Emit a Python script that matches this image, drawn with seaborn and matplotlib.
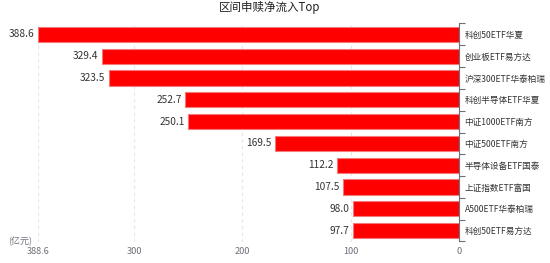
import matplotlib
matplotlib.use("Agg")
import matplotlib.pyplot as plt
import seaborn as sns
import pandas as pd
import numpy as np

categories = ["科创50ETF华夏", "创业板ETF易方达", "沪深300ETF华泰柏瑞", "科创半导体ETF华夏",
              "中证1000ETF南方", "中证500ETF南方", "半导体设备ETF国泰", "上证指数ETF富国",
              "A500ETF华泰柏瑞", "科创50ETF易方达"]
values = [388.6, 329.4, 323.5, 252.7, 250.1, 169.5, 112.2, 107.5, 98.0, 97.7]
xticks = [388.6, 300, 200, 100, 0]
xtick_labels = ["388.6", "300", "200", "100", "0"]
title = "区间申赎净流入Top"
unit = "(亿元)"

sns.set_theme(style="white")
plt.rcParams['font.family'] = ['Noto Sans CJK SC', 'DejaVu Sans']

df = pd.DataFrame({"cat": categories, "val": values})

fig = plt.figure(figsize=(5.5, 2.63), dpi=100)
ax = fig.add_axes([38/550, 1 - 241.5/263, (459-38)/550, (241.5-23.5)/263])

sns.barplot(data=df, x="val", y="cat", orient="h", color="#ff0000",
            edgecolor="#f27a7a", linewidth=0.8, width=0.7, ax=ax, saturation=1)

ax.set_xlim(max(values), 0)
ax.set_ylim(len(categories) - 0.5, -0.5)
ax.set_xlabel("")
ax.set_ylabel("")

ax.set_xticks(xticks)
ax.set_xticklabels(xtick_labels, fontsize=6.6, color="#6e7079")
ax.tick_params(axis="x", length=0, pad=4)
ax.grid(axis="x", color="#e0e6f1", linestyle=(0, (3, 3)), linewidth=0.8)
ax.set_axisbelow(True)

ax.yaxis.tick_right()
ax.set_yticks(range(len(categories)))
ax.set_yticklabels(categories, fontsize=6.2, color="#333333")
ax.tick_params(axis="y", which="major", length=0, pad=4)
ax.set_yticks(np.arange(-0.5, len(categories) + 0.5, 1), minor=True)
ax.tick_params(axis="y", which="minor", length=4, color="#6e7079", width=0.8, right=True, left=False)

for s in ["top", "left", "bottom"]:
    ax.spines[s].set_visible(False)
ax.spines["right"].set_color("#6e7079")
ax.spines["right"].set_linewidth(0.8)

for i, v in enumerate(values):
    ax.annotate(f"{v:.1f}", xy=(v, i), xytext=(-2.5, 0), textcoords="offset points",
                ha="right", va="center", fontsize=7.3, color="#333333")

fig.text(270/550, 1 - 7/263, title, ha="center", va="center", fontsize=8.3, color="#222222")
fig.text(8/550, 1 - 242/263, unit, ha="left", va="center", fontsize=6.5, color="#6e7079")

fig.savefig("out.png", dpi=100)
